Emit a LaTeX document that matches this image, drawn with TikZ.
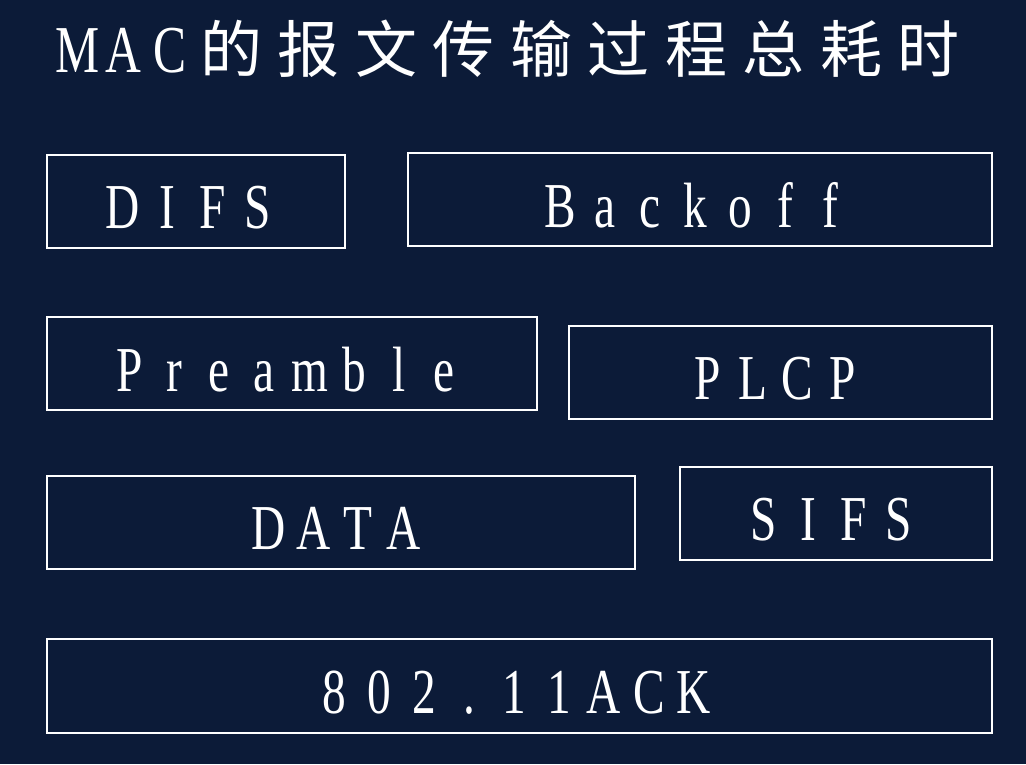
\documentclass[tikz,border=0pt]{standalone}
\usepackage{fontspec}
\setmainfont{Liberation Serif}[FakeStretch=0.74]
\newfontfamily\cjk{Noto Sans CJK SC}
\definecolor{bg}{RGB}{12,27,56}
\ExplSyntaxOn
\NewDocumentCommand\cells{mm}{\tl_map_inline:nn {#2} {\makebox[#1][c]{##1}}}
\ExplSyntaxOff
\tikzset{
  box/.style={draw=white, line width=1.4pt, inner sep=0pt, rectangle},
  txt/.style={text=white, inner sep=0pt, anchor=base, font=\fontsize{64}{70}\selectfont},
  ttl/.style={text=white, inner sep=0pt, anchor=base west},
}
\begin{document}
\begin{tikzpicture}[x=1pt,y=-1pt]
\fill[bg] (0,0) rectangle (1026,764);
\useasboundingbox (0,0) rectangle (1026,764);
\node[ttl] (title) at (54.5,72) {\fontsize{67}{70}\selectfont\cells{46pt}{MAC}{\cjk\fontsize{62}{70}\selectfont\cells{77.5pt}{的报文传输过程总耗时}}};
% boxes
\node[box, minimum width=298pt, minimum height=93pt] (difs) at (196,201.5) {};
\node[box, minimum width=584pt, minimum height=93pt] (backoff) at (700,199.5) {};
\node[box, minimum width=490pt, minimum height=93pt] (pre) at (292,363.5) {};
\node[box, minimum width=423pt, minimum height=93pt] (plcp) at (780.5,372.5) {};
\node[box, minimum width=588pt, minimum height=93pt] (data) at (341,522.5) {};
\node[box, minimum width=312pt, minimum height=93pt] (sifs) at (836,513.5) {};
\node[box, minimum width=945pt, minimum height=94pt] (ack) at (519.5,686) {};
% texts
\node[txt] (difsT) at (190,228) {\cells{45pt}{DIFS}};
\node[txt] (backoffT) at (695,227) {\cells{45pt}{Backoff}};
\node[txt] (preT) at (287,391) {\cells{45pt}{Preamble}};
\node[txt] (plcpT) at (775,399.5) {\cells{45pt}{PLCP}};
\node[txt] (dataT) at (336,549.5) {\cells{45pt}{DATA}};
\node[txt] (sifsT) at (831,540.5) {\cells{45pt}{SIFS}};
\node[txt] (ackT) at (514,713) {\cells{45pt}{802.11ACK}};
\end{tikzpicture}
\end{document}
